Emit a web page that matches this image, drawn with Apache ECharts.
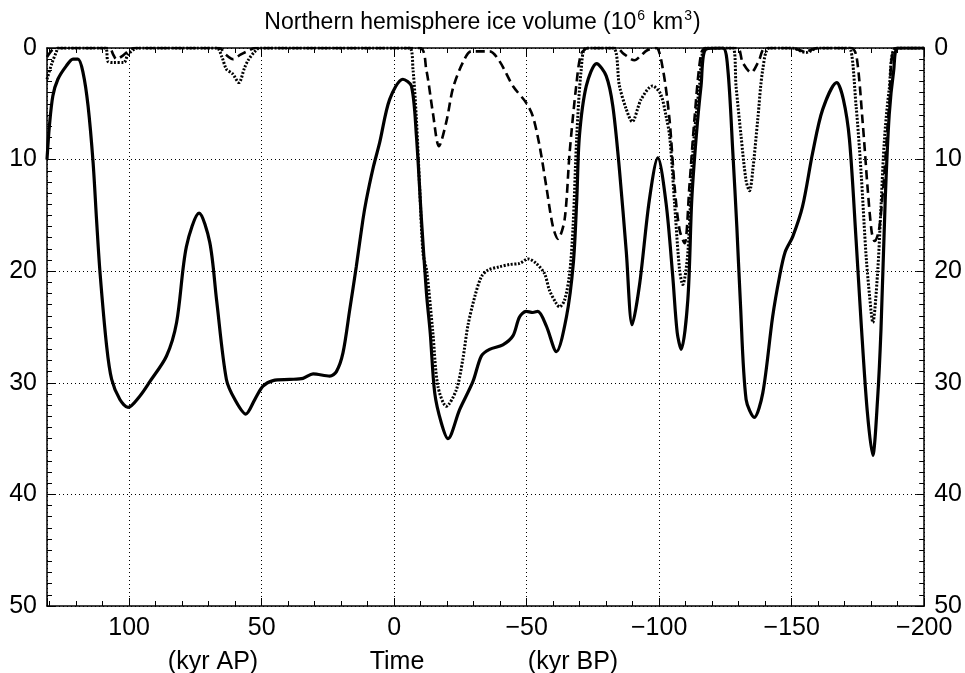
<!DOCTYPE html>
<html><head><meta charset="utf-8">
<script src="https://cdn.jsdelivr.net/npm/echarts@6/dist/echarts.min.js"></script>
<style>html,body{margin:0;padding:0;background:#fff}#c{width:965px;height:673px}</style>
</head><body><div id="c"></div>
<script>
// ---- data (time in kyr: positive = after present, negative = before present) ----
const solidX = [131,130.1,128.8,126.9,123.7,121.2,119.3,117.4,115.5,113.6,112.3,111.0,108.5,106.6,103.5,100.4,96.0,92.2,85.9,82.1,78.4,73.6,69.6,67.0,63.3,60.1,56.0,52.6,49.5,45.7,39.4,34.4,30.6,24.3,21.8,19.3,16.8,14.3,11.8,10.5,8.0,5.5,1.7,-3.3,-6.5,-8.4,-10.3,-12.2,-13.6,-15.3,-17.8,-20.3,-24.7,-29.7,-32.9,-36.0,-41.0,-44.8,-47.3,-49.8,-52.3,-54.2,-57.4,-61.2,-65.0,-67.6,-68.9,-69.9,-72.5,-76.4,-80.0,-82.5,-85.0,-87.6,-89.8,-92.6,-96.3,-99.5,-102.6,-105.1,-106.8,-108.3,-110.8,-112.3,-114.0,-115.8,-117.7,-124.0,-125.9,-127.8,-129.3,-130.6,-132.8,-135.9,-139.1,-142.8,-145.4,-147.5,-150.4,-154.1,-157.9,-161.7,-167.0,-169.5,-171.8,-174.3,-176.2,-178.5,-180.6,-182.4,-183.7,-185.3,-186.8,-188.5,-190.2,-200];
const solidY = [10.0,7.0,4.3,2.8,1.6,1.0,1.0,2.2,5.2,10.3,15.4,20.1,26.7,29.7,31.5,32.2,31.2,29.9,27.6,24.6,17.8,14.8,17.4,22.6,29.7,31.5,32.8,31.5,30.3,29.8,29.7,29.6,29.2,29.4,29.0,27.3,23.5,19.6,15.4,13.6,10.8,8.5,4.6,2.8,3.4,7.9,15.4,22.0,25.5,30.9,33.6,35.0,32.4,29.9,27.6,27.0,26.6,25.8,24.1,23.6,23.7,23.6,24.9,27.2,24.1,19.3,13.6,7.9,3.4,1.4,2.5,5.2,10.9,18.3,24.8,21.2,13.6,9.85,13.9,20.4,25.5,27.0,22.6,13.6,7.9,3.4,0.1,0,1.9,9.4,16.0,22.6,31.5,33.1,30.9,24.1,20.5,18.3,16.9,14.2,9.4,5.5,3.1,4.6,8.2,17.2,24.6,32.5,36.5,31.5,25.2,13.6,6.0,2.0,0,0];

const dottedX = [131,129.2,127.4,126.8,109,108,106,102,100.5,98,97,67.0,65,63.3,61,58.6,56.5,55.1,52.5,50.7,-5.8,-7.1,-8.4,-9.6,-10.9,-12.3,-14.6,-16.5,-19.7,-23.5,-25.9,-27.8,-30.4,-32.9,-35.4,-39.8,-43.6,-47.3,-50.5,-53.6,-56.7,-58.6,-61.2,-62.4,-64.3,-66.2,-67.5,-68.9,-70.6,-72.5,-82.5,-85,-87.6,-89.8,-93.2,-97.5,-100.5,-102.6,-104,-105.8,-107.7,-108.9,-110.8,-112.7,-115.2,-117.7,-127.8,-129.0,-130.9,-132.8,-134.1,-135.3,-137.2,-139.1,-141.6,-150,-155.4,-160,-169.5,-171.8,-174.3,-176.2,-178.1,-180.0,-180.6,-182.4,-183.7,-185.0,-186.8,-189.4,-200];
const dottedY = [2.8,1.4,0.3,0,0,1.2,1.3,1.3,0.6,0.1,0,0,0.8,1.9,2.3,3.1,1.8,1.1,0.3,0,0,1.9,6.4,12.4,18.4,20.0,25.5,30.3,32.1,30.6,27.9,24.9,22.3,20.5,19.9,19.6,19.4,19.3,18.9,19.3,20.2,21.7,22.9,23.2,22.6,20.2,16.0,7.9,1.9,0,0,3.4,5.5,6.6,4.6,3.4,4.1,6.1,8.0,13.9,19.9,21.2,18.4,9.4,3.4,0,0,3.4,7.9,11.9,12.8,11.0,6.4,1.9,0,0,0.4,0,0,0,5.2,11.2,18.7,23.7,24.6,20.2,14.2,8.2,3.7,0,0];

const dashedX = [131,129.5,128,107.5,106,104.8,102.5,100.5,98,66,63.5,60.8,58,55.5,52.5,-9.6,-12.1,-14.6,-16.9,-19.7,-22.2,-25.9,-29.1,-36.0,-39.8,-44.8,-49.8,-52.3,-54.9,-57.4,-59.9,-61.8,-64.3,-66.2,-68.7,-70.6,-73.4,-84,-86.5,-90.7,-93,-95.5,-98.9,-101.4,-103.9,-105.8,-107.7,-109.6,-111.4,-113.3,-115.8,-117.7,-129.5,-131.5,-134.7,-137.5,-140,-150,-155,-160,-172.5,-174.5,-176.8,-178.7,-180.2,-181.3,-182.8,-184.0,-185.0,-186.8,-189.4,-200];
const dashedY = [0.8,0.3,0,0,0.6,1.0,0.7,0.3,0,0,0.6,1.0,0.6,0.3,0,0,1.9,5.8,8.8,6.6,3.6,1.3,0.3,0.3,1.2,3.4,4.9,6.1,8.8,12.4,16.0,17.1,15.4,9.4,3.4,0.5,0,0,0.5,1.1,0.7,0.2,0,1.9,6.4,12.4,16.3,17.5,12.4,6.4,0.5,0,0,1.3,2.2,1.2,0,0,0.3,0,0,0.8,6.7,12.7,16.5,17.3,16.5,14.0,11.2,5.2,0,0];

const xTickLabels = [100,50,0,-50,-100,-150,-200];
const yTickLabels = [0,10,20,30,40,50];

// ---- build chart ----
const FONT = "'Liberation Sans Narrow','Liberation Sans',Arial,sans-serif";
const zip = (xs, ys) => xs.map((x, i) => [x, ys[i]]);
const fmtX = v => xTickLabels.indexOf(v) < 0 ? '' : String(v).replace('-', '\u2212');

function xAx(pos) {
  return {
    type: 'value', position: pos, min: -200, max: 131, interval: 50, inverse: true,
    axisLine: { show: true, onZero: false, lineStyle: { color: '#000', width: 1.5 } },
    axisTick: { show: true, inside: true, length: 8, lineStyle: { color: '#000', width: 1 } },
    minorTick: { show: true, splitNumber: 5, length: 5, lineStyle: { color: '#000', width: 1 } },
    splitLine: { show: pos === 'bottom', lineStyle: { color: '#000', width: 1, type: [1, 3] } },
    axisLabel: { show: pos === 'bottom', formatter: fmtX, color: '#000', fontSize: 25, fontFamily: FONT, margin: 10, showMaxLabel: false }
  };
}
function yAx(pos) {
  return {
    type: 'value', position: pos, min: 0, max: 50, interval: 10, inverse: true,
    axisLine: { show: true, onZero: false, lineStyle: { color: '#000', width: 1.5 } },
    axisTick: { show: true, inside: true, length: 8, lineStyle: { color: '#000', width: 1 } },
    minorTick: { show: true, splitNumber: 10, length: 5, lineStyle: { color: '#000', width: 1 } },
    splitLine: { show: pos === 'left', lineStyle: { color: '#000', width: 1, type: [1, 3] } },
    axisLabel: { color: '#000', fontSize: 25, fontFamily: FONT, margin: 10,
      formatter: v => yTickLabels.indexOf(v) < 0 ? '' : String(v) }
  };
}

const chart = echarts.init(document.getElementById('c'), null, { renderer: 'canvas' });
chart.setOption({
  backgroundColor: '#fff',
  animation: false,
  title: {
    text: 'Northern hemisphere ice volume (10{s|6} km{s|3})',
    left: 'center', top: 4,
    textStyle: { fontSize: 23, fontWeight: 'normal', color: '#000', fontFamily: FONT, lineHeight: 28,
      rich: { s: { fontSize: 14, fontFamily: FONT, color: '#000', verticalAlign: 'top', lineHeight: 28, padding: [0, 1, 0, 1] } } }
  },
  grid: { left: 47, right: 40, top: 48, bottom: 67, containLabel: false },
  xAxis: [xAx('bottom'), xAx('top')],
  yAxis: [yAx('left'), yAx('right')],
  graphic: [
    { type: 'text', x: 213, y: 662, style: { text: '(kyr AP)', fill: '#000', fontSize: 25, fontFamily: FONT, align: 'center', verticalAlign: 'middle' } },
    { type: 'text', x: 397, y: 662, style: { text: 'Time', fill: '#000', fontSize: 25, fontFamily: FONT, align: 'center', verticalAlign: 'middle' } },
    { type: 'text', x: 573, y: 662, style: { text: '(kyr BP)', fill: '#000', fontSize: 25, fontFamily: FONT, align: 'center', verticalAlign: 'middle' } }
  ],
  series: [
    { name: 'solid', type: 'line', data: zip(solidX, solidY), showSymbol: false, symbol: 'none', smooth: 0.3,
      lineStyle: { color: '#000', width: 3.2 }, z: 3 },
    { name: 'dotted', type: 'line', data: zip(dottedX, dottedY), showSymbol: false, symbol: 'none', smooth: 0.3,
      lineStyle: { color: '#000', width: 3, type: [2, 1.6] }, z: 4 },
    { name: 'dashed', type: 'line', data: zip(dashedX, dashedY), showSymbol: false, symbol: 'none', smooth: 0.3,
      lineStyle: { color: '#000', width: 2.6, type: [9, 5] }, z: 5 }
  ]
});
</script>
</body></html>
